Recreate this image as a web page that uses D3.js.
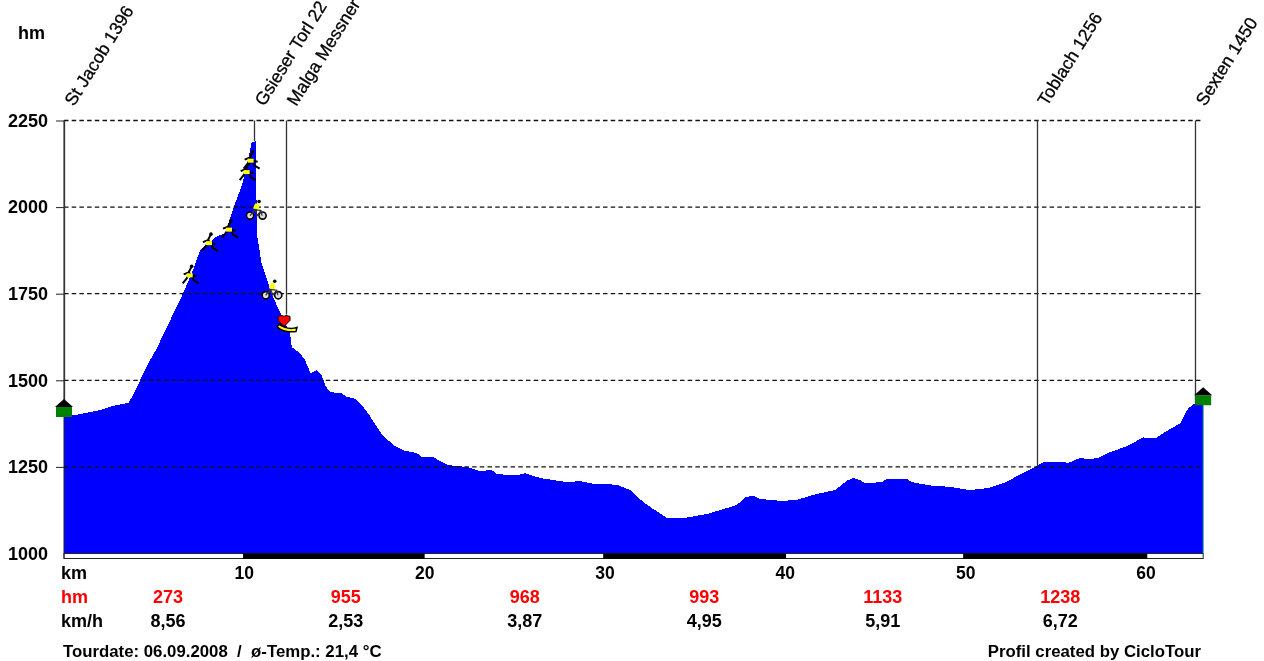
<!DOCTYPE html>
<html>
<head>
<meta charset="utf-8">
<title>CicloTour profile</title>
<script src="https://cdn.jsdelivr.net/npm/d3@7"></script>
<style>
  html, body { margin: 0; padding: 0; background: #fff; overflow: hidden; }
  svg { display: block; filter: blur(0.35px); }
  text { font-family: "Liberation Sans", Arial, sans-serif; fill: #000; }
  .bold { font-weight: bold; font-size: 18px; }
  .tick-km { font-size: 17.5px; }
  .foot { font-size: 16.8px; }
  .axis-y text { font-weight: bold; font-size: 18px; }
  .way { font-size: 17.8px; font-weight: normal; stroke: #000; stroke-width: 0.3px; }
</style>
</head>
<body>
<svg id="profile" width="1264" height="661"></svg>
<script>
// profile: km, hm
var profileKm = [0, 1.26, 2.0, 2.65, 3.57, 3.83, 4.22, 4.77, 5.14, 6.6, 7.15, 7.54, 7.82, 8.47, 8.93, 9.48, 9.86, 10.2, 10.41, 10.65,
  10.69, 10.96, 11.59, 11.98, 12.53, 12.63, 13.09, 13.37, 13.68, 14.02, 14.29, 14.48, 14.75, 15.4, 15.68, 16.14, 16.42, 16.86, 17.69, 18.36,
  18.8, 19.56, 19.84, 20.47, 21.3, 22.33, 23.07, 23.72, 24.0, 25.11, 25.57, 26.4, 27.12, 27.95, 28.62, 29.45, 29.9, 30.73, 31.39, 32.11,
  32.6, 33.43, 34.33, 35.65, 36.55, 37.31, 37.77, 38.21, 38.6, 39.43, 39.8, 40.71, 41.75, 42.76, 43.41, 43.76, 44.15, 44.43, 45.35, 45.63,
  46.74, 47.01, 48.2, 49.03, 50.25, 51.25, 52.28, 53.02, 53.95, 54.3, 55.41, 55.68, 56.35, 56.8, 57.35, 57.83, 58.94, 59.84, 60.51, 61.06,
  61.9, 62.34, 62.73, 63.17];
var profileHm = [1394, 1406, 1414, 1425, 1435, 1457, 1500, 1558, 1592, 1751, 1817, 1875, 1889, 1915, 1924, 2010, 2062, 2134, 2187, 2190,
  1924, 1837, 1740, 1697, 1636, 1596, 1578, 1558, 1520, 1529, 1515, 1486, 1466, 1462, 1452, 1447, 1434, 1405, 1339, 1310,
  1298, 1290, 1279, 1278, 1255, 1250, 1238, 1241, 1229, 1226, 1232, 1218, 1212, 1206, 1209, 1200, 1202, 1197, 1183, 1149,
  1131, 1103, 1102, 1114, 1128, 1140, 1162, 1167, 1157, 1154, 1151, 1156, 1172, 1183, 1210, 1218, 1212, 1203, 1206, 1216,
  1216, 1206, 1195, 1193, 1183, 1189, 1207, 1229, 1252, 1264, 1265, 1261, 1276, 1272, 1276, 1289, 1310, 1335, 1332, 1351,
  1376, 1419, 1434, 1437];

var hmTicks = [1000, 1250, 1500, 1750, 2000, 2250];
var kmTicks = [10, 20, 30, 40, 50, 60];
var bandStart = [9.93, 29.9, 49.86];
var bandEnd = [20.0, 40.04, 60.07];

var wayNames = ["St Jacob 1396", "Gsieser Torl 22", "Malga Messner", "Toblach 1256", "Sexten 1450"];
var wayKm = [0, 10.55, 12.33, 53.95, 62.73];
var wayHm = [1396, 2190, 1690, 1252, 1434];

var rowKm = [5.77, 15.63, 25.55, 35.5, 45.4, 55.25];
var rowHmVals = ["273", "955", "968", "993", "1133", "1238"];
var rowSpeed = ["8,56", "2,53", "3,87", "4,95", "5,91", "6,72"];

var runnerKm = [6.97, 8.04, 9.15, 10.13, 10.35];
var runnerHm = [1803, 1896, 1935, 2101, 2134];
var bikeKm = [10.65, 11.52];
var bikeHm = [1990, 1760];
var foodKm = [12.2];
var foodHm = [1670];
var houseKm = [0, 63.17];
var houseHm = [1394, 1428];

var svg = d3.select("#profile"),
  margin = { top: 120.5, left: 64, bottom: 553.5 };

var x = d3.scaleLinear().domain([0, 60]).range([margin.left, 1146]);
var y = d3.scaleLinear().domain([1000, 2250]).range([margin.bottom, margin.top]);
var endKm = profileKm[profileKm.length - 1];

var points = profileKm.map((km, i) => ({ km: km, hm: profileHm[i] }));

var area = d3
  .area()
  .x((d) => x(d.km))
  .y0(y(1000))
  .y1((d) => y(d.hm));

svg.append("path").datum(points).attr("d", area).attr("fill", "#0000ff").style("shape-rendering", "crispEdges");

// right edge of the area
svg.append("line")
  .attr("x1", x(endKm)).attr("x2", x(endKm))
  .attr("y1", y(1428)).attr("y2", y(1000))
  .attr("stroke", "#0a8f9a").attr("stroke-width", 1);

// dashed grid
svg.append("g")
  .selectAll("line")
  .data(hmTicks.slice(1))
  .enter()
  .append("line")
  .attr("x1", margin.left)
  .attr("x2", x(endKm))
  .attr("y1", (d) => y(d))
  .attr("y2", (d) => y(d))
  .attr("stroke", "#111")
  .attr("stroke-width", 1.3)
  .attr("stroke-dasharray", "4.5,3.2");

// km strip under the profile
var stripTop = y(1000), stripH = 5;
svg.append("rect")
  .attr("x", margin.left).attr("y", stripTop)
  .attr("width", x(endKm) - margin.left).attr("height", stripH)
  .attr("fill", "#fff").attr("stroke", "#222").attr("stroke-width", 1);
svg.append("g")
  .selectAll("rect")
  .data(bandStart)
  .enter()
  .append("rect")
  .attr("x", (d) => x(d))
  .attr("y", stripTop)
  .attr("width", (d, i) => x(bandEnd[i]) - x(d))
  .attr("height", stripH + 0.5)
  .attr("fill", "#000");

// left axis with hm labels
var yAxis = svg.append("g")
  .attr("class", "axis-y")
  .attr("transform", "translate(" + margin.left + ",0)")
  .call(d3.axisLeft(y).tickValues(hmTicks).tickFormat(d3.format("d")).tickSize(8).tickPadding(8));
yAxis.select(".domain").attr("d", "M0," + margin.top + "V" + (stripTop + stripH)).attr("stroke", "#222");
yAxis.selectAll(".tick line").attr("stroke", "#222");
yAxis.selectAll(".tick").filter((d) => d === 1000).select("line").remove();

// waypoint lines and names
var way = svg.append("g")
  .selectAll("g")
  .data(wayNames)
  .enter()
  .append("g");

way.append("line")
  .attr("x1", (d, i) => Math.round(x(wayKm[i])) + 0.5)
  .attr("x2", (d, i) => Math.round(x(wayKm[i])) + 0.5)
  .attr("y1", margin.top)
  .attr("y2", (d, i) => y(wayHm[i]))
  .attr("stroke", "#333")
  .attr("stroke-width", 1.3);

way.append("text")
  .attr("class", "way")
  .attr("transform", (d, i) => "translate(" + (x(wayKm[i]) + 10) + ",107) rotate(-58)")
  .text((d) => d);

// icons
function drawRunner(g) {
  g.append("path")
    .attr("d", "M2,-9L-1,-3L2,0L7,1M-1,-3L-6,-1M-1,-1L-3,3L-7,8M2,0L4,5L9,8")
    .attr("fill", "none").attr("stroke", "#000").attr("stroke-width", 2);
  g.append("circle").attr("cx", 2).attr("cy", -9).attr("r", 1.8).attr("fill", "#000");
  g.append("rect").attr("x", -3).attr("y", -2).attr("width", 6).attr("height", 4).attr("fill", "#ffff00");
}

function drawBike(g) {
  g.selectAll("circle.wheel")
    .data([-6, 6.5])
    .enter()
    .append("circle")
    .attr("class", "wheel")
    .attr("cx", (d) => d).attr("cy", 5).attr("r", 3.6)
    .attr("fill", "#ddd").attr("stroke", "#000").attr("stroke-width", 1.6);
  g.append("path")
    .attr("d", "M-6,5L-1,-1L5,0L6,5M-1,-1L1,5L5,0")
    .attr("fill", "none").attr("stroke", "#333").attr("stroke-width", 1.3);
  g.append("path").attr("d", "M-3,-2L-1,-7L3,-7L3,-1Z").attr("fill", "#ffff00");
  g.append("circle").attr("cx", 3).attr("cy", -9).attr("r", 1.8).attr("fill", "#000");
}

function drawFood(g) {
  g.append("path")
    .attr("d", "M-8,3C-4,8 5,9 11,8L12,4C6,6 0,5 -6,1Z")
    .attr("transform", "translate(1,2)")
    .attr("fill", "#ffff00").attr("stroke", "#000").attr("stroke-width", 1.5);
  g.append("path")
    .attr("d", "M0,5L-6,-1L-6,-5L-2,-6L0,-5L2,-6L6,-5L6,-1Z")
    .attr("fill", "#ff0000").attr("stroke", "#000").attr("stroke-width", 1);
}

function drawHouse(g) {
  g.append("rect").attr("x", -8).attr("y", -10).attr("width", 16).attr("height", 10).attr("fill", "#008000");
  g.append("path").attr("d", "M-9,-10L0,-18L9,-10Z").attr("fill", "#000");
}

function place(kms, hms, draw) {
  svg.append("g")
    .selectAll("g")
    .data(kms)
    .enter()
    .append("g")
    .attr("transform", (d, i) => "translate(" + x(d) + "," + y(hms[i]) + ")")
    .each(function () { draw(d3.select(this)); });
}

place(houseKm, houseHm, drawHouse);
place(runnerKm, runnerHm, drawRunner);
place(bikeKm, bikeHm, drawBike);
place(foodKm, foodHm, drawFood);

// km ticks and table rows
function textRow(labels, kms, top, color, cls) {
  svg.append("g")
    .selectAll("text")
    .data(labels)
    .enter()
    .append("text")
    .attr("class", cls)
    .attr("text-anchor", "middle")
    .attr("x", (d, i) => x(kms[i]))
    .attr("y", top)
    .style("fill", color)
    .text((d) => d);
}

textRow(kmTicks, kmTicks, 579, "#000", "bold tick-km");
textRow(rowHmVals, rowKm, 603, "#ff0000", "bold");
textRow(rowSpeed, rowKm, 627, "#000", "bold");

var labels = [
  { t: "hm", x: 18, y: 39, c: "#000", a: "start", k: "bold" },
  { t: "km", x: 61, y: 579, c: "#000", a: "start", k: "bold" },
  { t: "hm", x: 61, y: 603, c: "#ff0000", a: "start", k: "bold" },
  { t: "km/h", x: 61, y: 627, c: "#000", a: "start", k: "bold" },
  { t: "Tourdate: 06.09.2008  /  ø-Temp.: 21,4 °C", x: 63, y: 657, c: "#000", a: "start", k: "bold foot" },
  { t: "Profil created by CicloTour", x: 1201, y: 657, c: "#000", a: "end", k: "bold foot" },
];

svg.append("g")
  .selectAll("text")
  .data(labels)
  .enter()
  .append("text")
  .attr("class", (d) => d.k)
  .attr("x", (d) => d.x)
  .attr("y", (d) => d.y)
  .attr("text-anchor", (d) => d.a)
  .style("fill", (d) => d.c)
  .style("white-space", "pre")
  .text((d) => d.t);
</script>
</body>
</html>
